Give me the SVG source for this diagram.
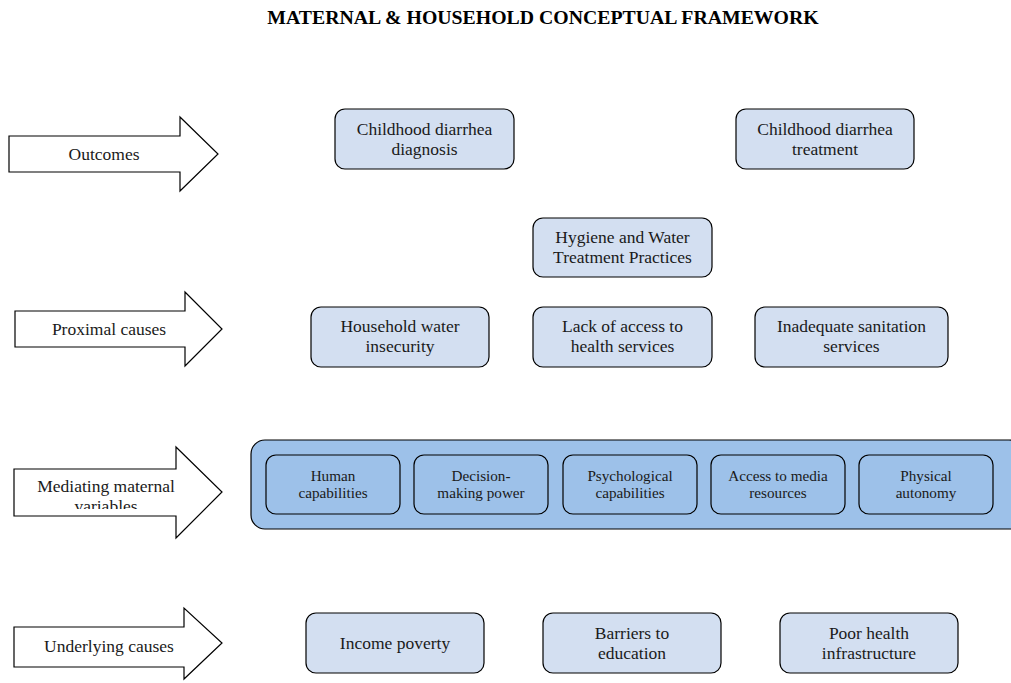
<svg xmlns="http://www.w3.org/2000/svg" width="1011" height="683" viewBox="0 0 1011 683">
<style>
.t{font-family:"Liberation Serif","Times New Roman",serif;fill:#1a1a1a;text-anchor:middle}
.n{font-size:17.5px}
.s{font-size:15.2px}
.box{fill:#d3dff1;stroke:#000;stroke-width:1.2}
.ibox{fill:#9dc1e9;stroke:#000;stroke-width:1.2}
.arr{fill:#fff;stroke:#000;stroke-width:1.2}
</style>
<defs>
<clipPath id="clipMed"><rect x="15" y="470" width="170" height="39"/></clipPath>
</defs>
<rect width="1011" height="683" fill="#fff"/>
<text x="543" y="24" style="font-family:'Liberation Serif','Times New Roman',serif;font-weight:bold;font-size:19.8px;text-anchor:middle">MATERNAL &amp; HOUSEHOLD CONCEPTUAL FRAMEWORK</text>

<g id="arrow-outcomes">
<polygon class="arr" points="9,136 180,136 180,117 218,154 180,191 180,172 9,172"/>
<text class="t n" x="104" y="160">Outcomes</text>
</g>
<g id="arrow-proximal">
<polygon class="arr" points="15,311 185,311 185,292 222,329 185,366 185,347 15,347"/>
<text class="t n" x="109" y="335">Proximal causes</text>
</g>
<g id="arrow-mediating">
<polygon class="arr" points="14,469 176,469 176,447 222,492 176,538 176,516 14,516"/>
<g clip-path="url(#clipMed)">
<text class="t n" x="106" y="492">Mediating maternal</text>
<text class="t n" x="106" y="512">variables</text>
</g>
</g>
<g id="arrow-underlying">
<polygon class="arr" points="14,627 184,627 184,608 222,643 184,679 184,667 14,667"/>
<text class="t n" x="109" y="652">Underlying causes</text>
</g>

<g id="dx-diagnosis">
<rect class="box" x="335" y="109" width="179" height="60" rx="10"/>
<text class="t n" x="424.5" y="135">Childhood diarrhea</text>
<text class="t n" x="424.5" y="155">diagnosis</text>
</g>
<g id="dx-treatment">
<rect class="box" x="736" y="109" width="178" height="60" rx="10"/>
<text class="t n" x="825" y="135">Childhood diarrhea</text>
<text class="t n" x="825" y="155">treatment</text>
</g>
<g id="hygiene">
<rect class="box" x="533" y="218" width="179" height="59" rx="10"/>
<text class="t n" x="622.5" y="243">Hygiene and Water</text>
<text class="t n" x="622.5" y="263">Treatment Practices</text>
</g>
<g id="water-insecurity">
<rect class="box" x="311" y="307" width="178" height="60" rx="10"/>
<text class="t n" x="400" y="332">Household water</text>
<text class="t n" x="400" y="352">insecurity</text>
</g>
<g id="health-access">
<rect class="box" x="533" y="307" width="179" height="60" rx="10"/>
<text class="t n" x="622.5" y="332">Lack of access to</text>
<text class="t n" x="622.5" y="352">health services</text>
</g>
<g id="sanitation">
<rect class="box" x="755" y="307" width="193" height="60" rx="10"/>
<text class="t n" x="851.5" y="332">Inadequate sanitation</text>
<text class="t n" x="851.5" y="352">services</text>
</g>

<g id="mediating-container">
<rect class="ibox" x="251" y="440" width="772" height="89" rx="14"/>
</g>
<g id="human">
<rect class="ibox" x="266" y="455" width="134" height="59" rx="10"/>
<text class="t s" x="333" y="481">Human</text>
<text class="t s" x="333" y="498">capabilities</text>
</g>
<g id="decision">
<rect class="ibox" x="414" y="455" width="134" height="59" rx="10"/>
<text class="t s" x="481" y="481">Decision-</text>
<text class="t s" x="481" y="498">making power</text>
</g>
<g id="psych">
<rect class="ibox" x="563" y="455" width="134" height="59" rx="10"/>
<text class="t s" x="630" y="481">Psychological</text>
<text class="t s" x="630" y="498">capabilities</text>
</g>
<g id="media">
<rect class="ibox" x="711" y="455" width="134" height="59" rx="10"/>
<text class="t s" x="778" y="481">Access to media</text>
<text class="t s" x="778" y="498">resources</text>
</g>
<g id="physical">
<rect class="ibox" x="859" y="455" width="134" height="59" rx="10"/>
<text class="t s" x="926" y="481">Physical</text>
<text class="t s" x="926" y="498">autonomy</text>
</g>

<g id="income">
<rect class="box" x="306" y="613" width="178" height="60" rx="10"/>
<text class="t n" x="395" y="649">Income poverty</text>
</g>
<g id="education">
<rect class="box" x="543" y="613" width="178" height="60" rx="10"/>
<text class="t n" x="632" y="639">Barriers to</text>
<text class="t n" x="632" y="659">education</text>
</g>
<g id="infrastructure">
<rect class="box" x="780" y="613" width="178" height="60" rx="10"/>
<text class="t n" x="869" y="639">Poor health</text>
<text class="t n" x="869" y="659">infrastructure</text>
</g>
<g id="connectors"></g>
</svg>
